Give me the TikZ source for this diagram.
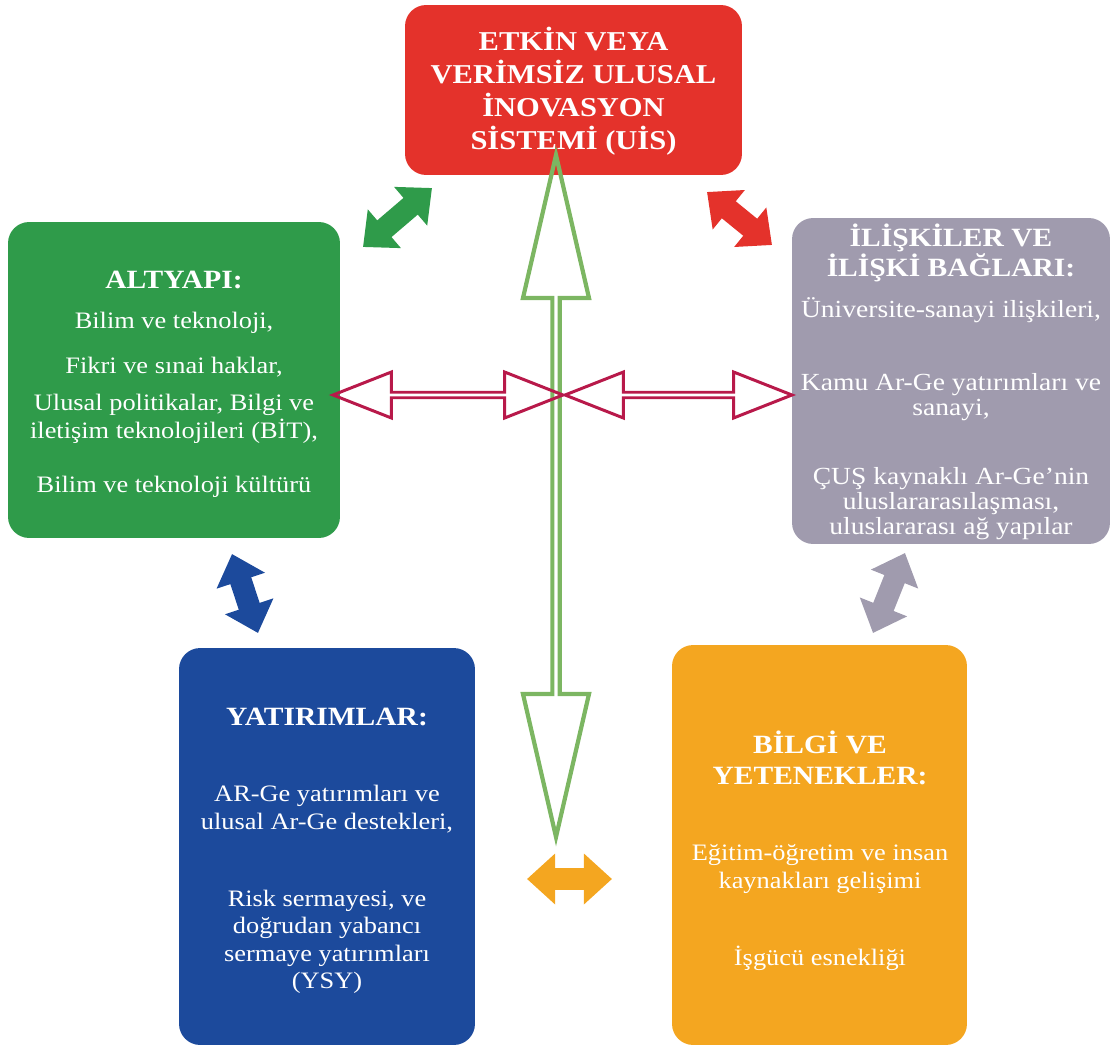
\documentclass[tikz,border=0pt]{standalone}
\usepackage{fontspec}
\setmainfont{Liberation Serif}[FakeStretch=1.12]
\usetikzlibrary{shapes.arrows,arrows.meta}

\definecolor{uisred}{HTML}{E4322B}
\definecolor{altgreen}{HTML}{2F9B4A}
\definecolor{iliskigrey}{HTML}{A09BAE}
\definecolor{yatblue}{HTML}{1C4A9C}
\definecolor{bilorange}{HTML}{F4A620}
\definecolor{outgreen}{HTML}{7CB662}
\definecolor{outred}{HTML}{B8194A}

\tikzset{
  kutu/.style={rounded corners=12pt, inner sep=0pt},
  baslik/.style={text=white, align=center, inner sep=0pt, font=\bfseries\fontsize{15pt}{17.5pt}\selectfont},
  metin/.style={text=white, align=center, inner sep=0pt, font=\fontsize{13.4pt}{15.6pt}\selectfont},
  bosok/.style={double arrow, draw, inner sep=0pt},
  doluok/.style={line width=12.5pt, {Triangle[length=16pt,width=28pt]}-{Triangle[length=16pt,width=28pt]}},
}

\begin{document}
\begin{tikzpicture}[x=0.02cm,y=-0.02cm]
      \useasboundingbox (0,0) rectangle (1113,1048);
      % boxes
      \node[kutu, fill=uisred, minimum width=6.74cm, minimum height=3.4cm] (uis) at (573.5,90) {};
      \node[kutu, fill=altgreen, minimum width=6.64cm, minimum height=6.32cm] (alt) at (174,380) {};
      \node[kutu, fill=iliskigrey, minimum width=6.36cm, minimum height=6.52cm] (ilis) at (951,381) {};
      \node[kutu, fill=yatblue, minimum width=5.92cm, minimum height=7.94cm] (yat) at (327,846.5) {};
      \node[kutu, fill=bilorange, minimum width=5.9cm, minimum height=8cm] (bil) at (819.5,845) {};
      % texts
      \node[baslik, font=\bfseries\fontsize{15.5pt}{18.7pt}\selectfont] (uisbaslik) at (573.5,91) {ETKİN VEYA\\VERİMSİZ ULUSAL\\İNOVASYON\\SİSTEMİ (UİS)};
      \node[baslik] (altbaslik) at (174,280) {ALTYAPI:};
      \node[metin] (alt1) at (174,323) {Bilim ve teknoloji,};
      \node[metin] (alt2) at (174,367) {Fikri ve sınai haklar,};
      \node[metin] (alt3) at (174,419) {Ulusal politikalar, Bilgi ve\\iletişim teknolojileri (BİT),};
      \node[metin] (alt4) at (174,487) {Bilim ve teknoloji kültürü};
      \node[baslik, font=\bfseries\fontsize{15pt}{17pt}\selectfont] (ilisbaslik) at (951,253) {İLİŞKİLER VE\\İLİŞKİ BAĞLARI:};
      \node[metin, font=\fontsize{14pt}{14.2pt}\selectfont] (ilis1) at (951,310) {Üniversite-sanayi ilişkileri,};
      \node[metin, font=\fontsize{14pt}{14.2pt}\selectfont] (ilis2) at (951,397) {Kamu Ar-Ge yatırımları ve\\sanayi,};
      \node[metin, font=\fontsize{14pt}{14.2pt}\selectfont] (ilis3) at (951,504) {ÇUŞ kaynaklı Ar-Ge'nin\\uluslararasılaşması,\\uluslararası ağ yapılar};
      \node[baslik] (yatbaslik) at (327,717) {YATIRIMLAR:};
      \node[metin] (yat1) at (327,809) {AR-Ge yatırımları ve\\ulusal Ar-Ge destekleri,};
      \node[metin] (yat2) at (327,942) {Risk sermayesi, ve\\doğrudan yabancı\\sermaye yatırımları\\(YSY)};
      \node[baslik] (bilbaslik) at (820,758) {BİLGİ VE\\YETENEKLER:};
      \node[metin] (bil1) at (820,869) {Eğitim-öğretim ve insan\\kaynakları gelişimi};
      \node[metin] (bil2) at (820,958) {İşgücü esnekliği};
      % solid arrows
      \coordinate (ye1) at (363,247);
      \coordinate (ye2) at (432,188);
      \coordinate (ki1) at (707,192);
      \coordinate (ki2) at (772,245);
      \coordinate (ma1) at (232,554);
      \coordinate (ma2) at (258,633);
      \coordinate (gr1) at (905,553);
      \coordinate (gr2) at (873,633);
      \coordinate (tu1) at (527,879);
      \coordinate (tu2) at (612,879);
      \draw[doluok, altgreen] (ye1) -- (ye2);
      \draw[doluok, uisred] (ki1) -- (ki2);
      \draw[doluok, yatblue] (ma1) -- (ma2);
      \draw[doluok, iliskigrey] (gr1) -- (gr2);
      \draw[doluok, bilorange] (tu1) -- (tu2);
      % hollow arrows
      \node[bosok, draw=outgreen, line width=2.4pt, rotate=90, minimum height=13.64cm, minimum width=1.32cm, double arrow head extend=0.34cm, double arrow tip angle=26] (dikok) at (556,496) {};
      \node[bosok, draw=outred, line width=1.7pt, minimum height=4.6cm, minimum width=0.92cm, double arrow head extend=0.22cm, double arrow tip angle=43] (solok) at (448,395) {};
      \node[bosok, draw=outred, line width=1.7pt, minimum height=4.54cm, minimum width=0.92cm, double arrow head extend=0.22cm, double arrow tip angle=43] (sagok) at (678.5,395) {};
    \end{tikzpicture}
\end{document}
